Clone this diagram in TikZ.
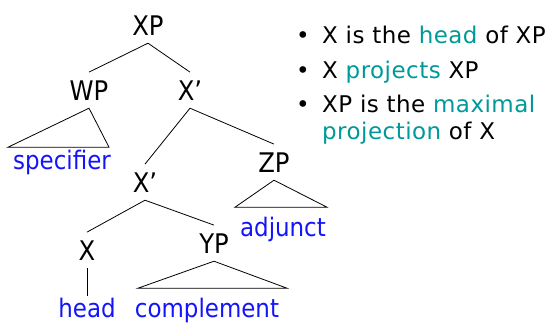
\documentclass[tikz,border=0pt]{standalone}
\usepackage{fontspec}
\setmainfont{DejaVu Sans Condensed}
\newfontfamily\bulfont[LetterSpace=2]{DejaVu Sans}
\definecolor{lblue}{RGB}{20,20,250}
\definecolor{lteal}{RGB}{0,153,153}
\begin{document}
\begin{tikzpicture}[x=1pt,y=-1pt,
  lab/.style={anchor=base,inner sep=8pt,font=\fontsize{27}{30}\selectfont},
  leaf/.style={anchor=base,inner sep=1pt,text=lblue,font=\fontsize{25.5}{30}\selectfont},
  bul/.style={anchor=base,inner sep=0pt,font=\bulfont\fontsize{23}{26}\selectfont},
  txt/.style={anchor=base west,inner sep=0pt,font=\bulfont\fontsize{23}{26}\selectfont},
  edge/.style={line width=0.8pt}]
\useasboundingbox (0,0) rectangle (552,322);
% tree nodes
\node[lab] (XP) at (148,35) {XP};
\node[lab] (WP) at (89,100) {WP};
\node[lab] (Xb1) at (190,100) {X’};
\node[lab] (Xb2) at (145,192) {X’};
\node[lab] (ZP) at (274,172) {ZP};
\node[lab] (X) at (87,260) {X};
\node[lab] (YP) at (214,253) {YP};
\node[leaf] (spec) at (62,169) {specifier};
\node[leaf] (adj) at (283,236) {adjunct};
\node[leaf] (head) at (87,317) {head};
\node[leaf] (comp) at (207,317) {complement};
% edges
\draw[edge] (XP.south) -- (WP.north);
\draw[edge] (XP.south) -- (Xb1.north);
\draw[edge] (Xb1.south) -- (Xb2.north);
\draw[edge] (Xb1.south) -- (ZP.north);
\draw[edge] (Xb2.south) -- (X.north);
\draw[edge] (Xb2.south) -- (YP.north);
\draw[edge] (X.south) -- (head.north);
% triangles
\draw[edge] (WP.south) -- ++(-81,39) -- ++(101,0) -- cycle;
\draw[edge] (ZP.south) -- ++(-39,27) -- ++(92,0) -- cycle;
\draw[edge] (YP.south) -- ++(-76,27) -- ++(149,0) -- cycle;
% bullets
\node[bul] (b1) at (303,43) {•};
\node[txt] (t1) at (322,43) {X is the \textcolor{lteal}{head} of XP};
\node[bul] (b2) at (303,78) {•};
\node[txt] (t2) at (322,78) {X \textcolor{lteal}{projects} XP};
\node[bul] (b3) at (303,112) {•};
\node[txt] (t3) at (322,112) {XP is the \textcolor{lteal}{maximal}};
\node[txt] (t4) at (322,139) {\textcolor{lteal}{projection} of X};
\end{tikzpicture}
\end{document}
